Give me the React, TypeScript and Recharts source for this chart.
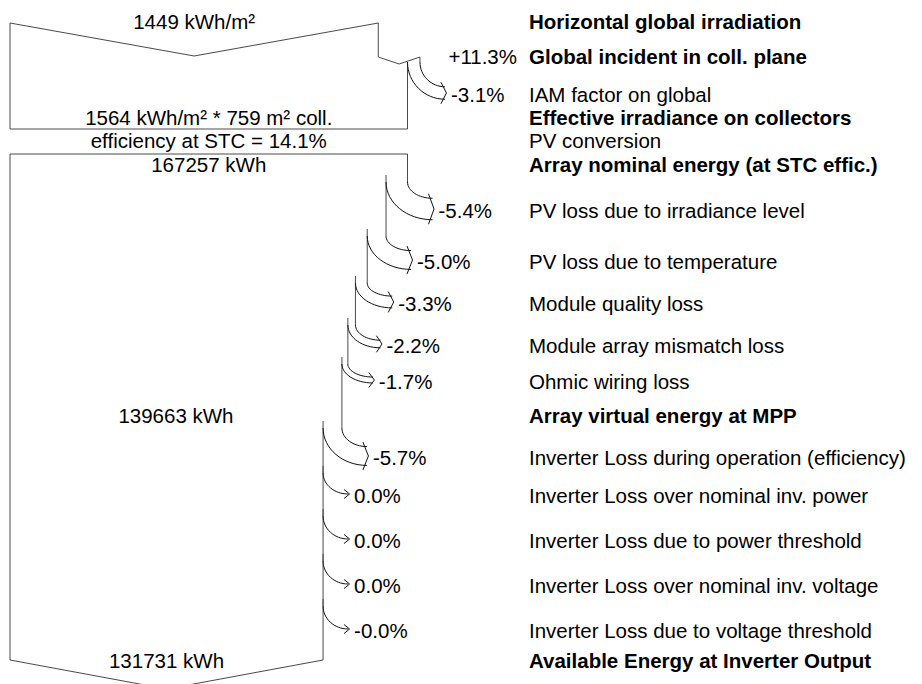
import React from 'react';
import { ComposedChart, Line, Scatter, XAxis, YAxis } from 'recharts';

// ---------------- data ----------------
// irradiation stages (kWh/m²)
const irrHorizontal = 1449;
const irrGlobalIncident = 1613;
const irrEffective = 1564;
const gainPercent = '+11.3%';
const iamPercent = '-3.1%';
const collectorArea = 759;
const stcEfficiency = '14.1%';

// energy stages (kWh)
const nominalEnergy = 167257;
const arrayLossNames = [
  'PV loss due to irradiance level',
  'PV loss due to temperature',
  'Module quality loss',
  'Module array mismatch loss',
  'Ohmic wiring loss',
  'Inverter Loss during operation (efficiency)',
  'Inverter Loss over nominal inv. power',
  'Inverter Loss due to power threshold',
  'Inverter Loss over nominal inv. voltage',
  'Inverter Loss due to voltage threshold',
];
const arrayLossPercents = ['-5.4%', '-5.0%', '-3.3%', '-2.2%', '-1.7%', '-5.7%', '0.0%', '0.0%', '0.0%', '-0.0%'];
const energyAfterLoss = [158225, 150314, 145354, 142156, 139663, 131731, 131731, 131731, 131731, 131731];
const virtualEnergy = 139663;
const outputEnergy = 131731;

// ---------------- layout ----------------
const W = 922;
const H = 684;
const LEFT_PX = 10;
const REF_WIDTH_PX = 397.5; // width of the reference (nominal) box
const LABEL_PX = 529;
const FONT = '"Liberation Sans", Arial, Helvetica, sans-serif';
const FS = 20.5;

// row centres (y axis units = rows of the diagram)
const rowHorizontal = 22;
const rowGlobal = 57;
const rowIam = 95;
const rowEffective = 118;
const rowPvConv = 141;
const rowNominal = 165;
const rowVirtual = 416;
const rowOutput = 661;
const arrayLossRows = [211, 262, 304, 346, 382, 458, 496, 541, 586, 631];
const arrayLossCurveStart = [182, 236, 283, 325, 364, 428, 473, 516, 561, 606];

const topBoxTop = 23;
const topBoxTip = 56;
const topBoxBottom = 129;
const gainTop = 57;
const gainNotch = 64;
const iamCurveStart = 62;
const arrayBoxTop = 154;
const arrayBoxBottom = 660;
const arrayBoxTip = 689;

// ---------------- helpers ----------------
const xPerPx = nominalEnergy / REF_WIDTH_PX;
const xDomain = [-LEFT_PX * xPerPx, (W - LEFT_PX) * xPerPx];
const layoutX = (px: number) => (px - LEFT_PX) * xPerPx;
const irrX = (v: number) => (v / irrEffective) * nominalEnergy;

const K = 0.5523;
// custom d3 curve: 2 points -> (outer start at old edge, [new edge x, arrow middle y])
const lossArrowCurve = (ctx: any) => {
  let pts: number[][] = [];
  return {
    areaStart() {},
    areaEnd() {},
    lineStart() {
      pts = [];
    },
    point(x: number, y: number) {
      pts.push([x, y]);
    },
    lineEnd() {
      if (pts.length < 2) return;
      const [xo, ys] = pts[0];
      const [xn, m] = pts[1];
      const w = Math.max(0, xo - xn);
      const xt = xo + 25;
      const yTop = m - w / 2;
      const yBot = m + w / 2;
      const arc = (x0: number, y0: number, x1: number, y1: number) => {
        ctx.moveTo(x0, y0);
        ctx.bezierCurveTo(x0, y0 + K * (y1 - y0), x1 - K * (x1 - x0), y1, x1, y1);
      };
      arc(xo, ys, xt, yTop);
      if (w > 0.5) arc(xn, ys, xt, yBot);
      ctx.moveTo(xt - 4, yTop - 4.5);
      ctx.lineTo(xt + 1.5, m);
      ctx.lineTo(xt - 4, yBot + 4.5);
    },
  };
};

type Pt = { x: number; y: number };

const topBox: Pt[] = [
  { x: irrX(irrEffective), y: iamCurveStart },
  { x: irrX(irrEffective), y: topBoxBottom },
  { x: 0, y: topBoxBottom },
  { x: 0, y: topBoxTop },
  { x: irrX(irrHorizontal) / 2, y: topBoxTip },
  { x: irrX(irrHorizontal), y: topBoxTop },
  { x: irrX(irrHorizontal), y: gainTop },
  { x: (irrX(irrHorizontal) + irrX(irrGlobalIncident)) / 2, y: gainNotch },
  { x: irrX(irrGlobalIncident), y: gainTop },
  { x: irrX(irrGlobalIncident), y: iamCurveStart },
];

const arrayBox: Pt[] = [
  { x: nominalEnergy, y: arrayLossCurveStart[0] },
  { x: nominalEnergy, y: arrayBoxTop },
  { x: 0, y: arrayBoxTop },
  { x: 0, y: arrayBoxBottom },
  { x: outputEnergy / 2, y: arrayBoxTip },
  { x: outputEnergy, y: arrayBoxBottom },
];

const energyBefore = [nominalEnergy, ...energyAfterLoss.slice(0, -1)];

const edges: Pt[][] = energyAfterLoss.map((e, i) => [
  { x: e, y: arrayLossCurveStart[i] - 7 },
  { x: e, y: i + 1 < energyAfterLoss.length ? arrayLossCurveStart[i + 1] : arrayBoxBottom },
]);

const arrows: Pt[][] = [
  [
    { x: irrX(irrGlobalIncident), y: iamCurveStart },
    { x: irrX(irrEffective), y: rowIam - 2 },
  ],
  ...energyAfterLoss.map((e, i) => [
    { x: energyBefore[i], y: arrayLossCurveStart[i] },
    { x: e, y: arrayLossRows[i] - 2 },
  ]),
];

type TextItem = { x: number; y: number; text: string; bold?: boolean; anchor?: string; dx?: number };

const rightLabels: TextItem[] = [
  { text: 'Horizontal global irradiation', y: rowHorizontal, bold: true },
  { text: 'Global incident in coll. plane', y: rowGlobal, bold: true },
  { text: 'IAM factor on global', y: rowIam },
  { text: 'Effective irradiance on collectors', y: rowEffective, bold: true },
  { text: 'PV conversion', y: rowPvConv },
  { text: 'Array nominal energy (at STC effic.)', y: rowNominal, bold: true },
  ...arrayLossNames.slice(0, 5).map((t, i) => ({ text: t, y: arrayLossRows[i] })),
  { text: 'Array virtual energy at MPP', y: rowVirtual, bold: true },
  ...arrayLossNames.slice(5).map((t, i) => ({ text: t, y: arrayLossRows[i + 5] })),
  { text: 'Available Energy at Inverter Output', y: rowOutput, bold: true },
].map((d) => ({ ...d, x: layoutX(LABEL_PX) }));

const percentLabels: TextItem[] = [
  { x: layoutX(LABEL_PX), y: rowGlobal, text: gainPercent, anchor: 'end', dx: -12 },
  { x: irrX(irrGlobalIncident), y: rowIam, text: iamPercent, dx: 31 },
  ...arrayLossPercents.map((t, i) => ({ x: energyBefore[i], y: arrayLossRows[i], text: t, dx: 31 })),
];

const boxLabels: TextItem[] = [
  { x: irrX(irrHorizontal) / 2, y: rowHorizontal, text: `${irrHorizontal} kWh/m²` },
  { x: irrX(irrEffective) / 2, y: rowEffective, text: `${irrEffective} kWh/m² * ${collectorArea} m² coll.` },
  { x: irrX(irrEffective) / 2, y: rowPvConv, text: `efficiency at STC = ${stcEfficiency}` },
  { x: nominalEnergy / 2, y: rowNominal, text: `${nominalEnergy} kWh` },
  { x: virtualEnergy / 2, y: rowVirtual, text: `${virtualEnergy} kWh` },
  { x: outputEnergy / 2, y: rowOutput, text: `${outputEnergy} kWh` },
].map((d) => ({ ...d, anchor: 'middle' }));

const TextShape = (p: any) => {
  const d: TextItem = p.payload;
  return (
    <text
      x={p.cx + (d.dx || 0)}
      y={p.cy + 7}
      textAnchor={(d.anchor as any) || 'start'}
      fontFamily={FONT}
      fontSize={FS}
      fontWeight={d.bold ? 'bold' : 'normal'}
      fill="#000"
    >
      {d.text}
    </text>
  );
};

const BOX_STROKE = '#4a4a4a';
const ARROW_STROKE = '#111';

export default function App() {
  return (
    <div style={{ width: W, height: H, background: '#fff' }}>
      <style>{'body{margin:0;background:#fff}'}</style>
      <ComposedChart width={W} height={H} margin={{ top: 0, right: 0, bottom: 0, left: 0 }}>
        <XAxis type="number" dataKey="x" domain={xDomain} allowDataOverflow hide />
        <YAxis type="number" dataKey="y" domain={[0, H]} reversed allowDataOverflow hide />
        <Line data={topBox} dataKey="y" type="linear" stroke={BOX_STROKE} strokeWidth={1} dot={false} activeDot={false} isAnimationActive={false} />
        <Line data={arrayBox} dataKey="y" type="linear" stroke={BOX_STROKE} strokeWidth={1} dot={false} activeDot={false} isAnimationActive={false} />
        {edges.map((e, i) => (
          <Line key={`e${i}`} data={e} dataKey="y" type="linear" stroke={BOX_STROKE} strokeWidth={1} dot={false} activeDot={false} isAnimationActive={false} />
        ))}
        {arrows.map((a, i) => (
          <Line key={`a${i}`} data={a} dataKey="y" type={lossArrowCurve as any} stroke={ARROW_STROKE} strokeWidth={1} dot={false} activeDot={false} isAnimationActive={false} />
        ))}
        <Scatter data={rightLabels} shape={TextShape} isAnimationActive={false} />
        <Scatter data={percentLabels} shape={TextShape} isAnimationActive={false} />
        <Scatter data={boxLabels} shape={TextShape} isAnimationActive={false} />
      </ComposedChart>
    </div>
  );
}
